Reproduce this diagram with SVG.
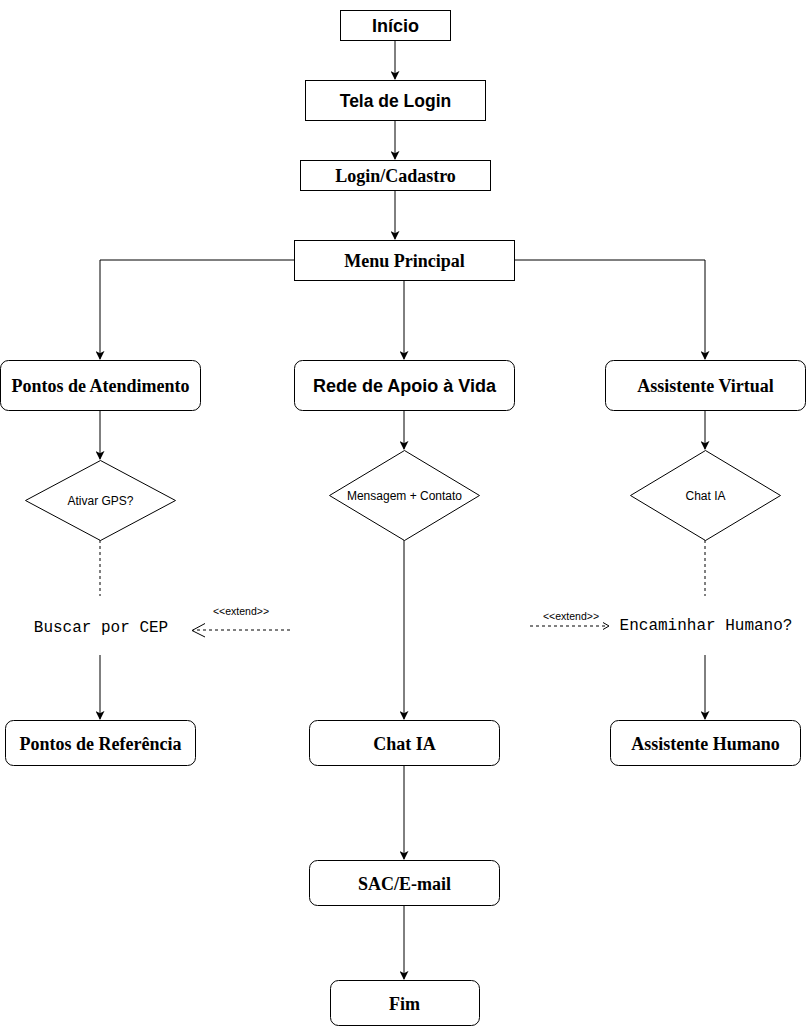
<svg xmlns="http://www.w3.org/2000/svg" width="806" height="1029" viewBox="0 0 806 1029">
<defs>
<marker id="arr" viewBox="0 0 10 10" refX="9" refY="5" markerWidth="9" markerHeight="9" markerUnits="userSpaceOnUse" orient="auto">
<path d="M0,0 L10,5 L0,10 L2.5,5 Z" fill="#000"/>
</marker>
</defs>
<style>
.box{fill:#fff;stroke:#000;stroke-width:1}
.ln{fill:none;stroke:#000;stroke-width:1}
.dash{fill:none;stroke:#000;stroke-width:1;stroke-dasharray:3 3}
.sans{font-family:"Liberation Sans",Arial,sans-serif;font-weight:bold;font-size:18px;text-anchor:middle}
.serif{font-family:"Liberation Serif","Times New Roman",serif;font-weight:bold;font-size:18px;text-anchor:middle}
.small{font-family:"Liberation Sans",Arial,sans-serif;font-size:12px;text-anchor:middle}
.mono{font-family:"Liberation Mono","Courier New",monospace;font-size:16px;text-anchor:middle}
.ext{font-family:"Liberation Sans",Arial,sans-serif;font-size:10.5px;text-anchor:middle}
</style>
<rect width="806" height="1029" fill="#fff"/>
<g id="connectors">
<line class="ln" x1="395" y1="40" x2="395" y2="79" marker-end="url(#arr)"/>
<line class="ln" x1="395" y1="120" x2="395" y2="159" marker-end="url(#arr)"/>
<line class="ln" x1="395" y1="190" x2="395" y2="239" marker-end="url(#arr)"/>
<polyline class="ln" points="294,260 100,260 100,359" marker-end="url(#arr)"/>
<polyline class="ln" points="514,260 705,260 705,359" marker-end="url(#arr)"/>
<line class="ln" x1="404" y1="280" x2="404" y2="359" marker-end="url(#arr)"/>
<line class="ln" x1="100" y1="410" x2="100" y2="459" marker-end="url(#arr)"/>
<line class="ln" x1="404" y1="410" x2="404" y2="449" marker-end="url(#arr)"/>
<line class="ln" x1="705" y1="410" x2="705" y2="449" marker-end="url(#arr)"/>
<line class="dash" x1="100" y1="540" x2="100" y2="596"/>
<line class="dash" x1="705" y1="540" x2="705" y2="596"/>
<line class="ln" x1="100" y1="655" x2="100" y2="719" marker-end="url(#arr)"/>
<line class="ln" x1="705" y1="655" x2="705" y2="719" marker-end="url(#arr)"/>
<line class="ln" x1="404" y1="540" x2="404" y2="719" marker-end="url(#arr)"/>
<line class="ln" x1="404" y1="765" x2="404" y2="859" marker-end="url(#arr)"/>
<line class="ln" x1="404" y1="905" x2="404" y2="979" marker-end="url(#arr)"/>
<line class="dash" x1="290" y1="630" x2="193" y2="630"/>
<polyline class="ln" points="205,623.5 192,630.5 205,637"/>
<text class="ext" x="241" y="615">&lt;&lt;extend&gt;&gt;</text>
<line class="dash" x1="530" y1="626" x2="608" y2="626"/>
<polyline class="ln" points="603,622.5 609,626 603,629.5"/>
<text class="ext" x="571" y="620">&lt;&lt;extend&gt;&gt;</text>
</g>
<g id="inicio"><rect class="box" x="340.5" y="10.5" width="110" height="30"/><text class="sans" x="395.5" y="31.5">Início</text></g>
<g id="tela-login"><rect class="box" x="305.5" y="80.5" width="180" height="40"/><text class="sans" x="395.5" y="106.5" style="font-size:17.5px">Tela de Login</text></g>
<g id="login-cadastro"><rect class="box" x="300.5" y="160.5" width="190" height="30"/><text class="serif" x="395.5" y="181.5">Login/Cadastro</text></g>
<g id="menu-principal"><rect class="box" x="294.5" y="240.5" width="220" height="40"/><text class="serif" x="404.5" y="266.5">Menu Principal</text></g>
<g id="pontos-atendimento"><rect class="box" x="0.5" y="360.5" width="200" height="50" rx="8"/><text class="serif" x="100.5" y="391.5">Pontos de Atendimento</text></g>
<g id="rede-apoio"><rect class="box" x="294.5" y="360.5" width="220" height="50" rx="8"/><text class="sans" x="404.5" y="391.5">Rede de Apoio à Vida</text></g>
<g id="assistente-virtual"><rect class="box" x="605.5" y="360.5" width="200" height="50" rx="8"/><text class="serif" x="705.5" y="391.5">Assistente Virtual</text></g>
<g id="ativar-gps"><polygon class="box" points="100.5,460.5 175.5,500.5 100.5,540.5 25.5,500.5"/><text class="small" x="100.5" y="504.5">Ativar GPS?</text></g>
<g id="mensagem-contato"><polygon class="box" points="404.5,450.5 479.5,495.5 404.5,540.5 329.5,495.5"/><text class="small" x="404.5" y="499.5">Mensagem + Contato</text></g>
<g id="chat-ia-decisao"><polygon class="box" points="705.5,450.5 780.5,495.5 705.5,540.5 630.5,495.5"/><text class="small" x="705.5" y="499.5">Chat IA</text></g>
<g id="buscar-cep"><text class="mono" x="101" y="632">Buscar por CEP</text></g>
<g id="encaminhar-humano"><text class="mono" x="706" y="630">Encaminhar Humano?</text></g>
<g id="pontos-referencia"><rect class="box" x="5.5" y="720.5" width="190" height="45" rx="8"/><text class="serif" x="100.5" y="749.5">Pontos de Referência</text></g>
<g id="chat-ia"><rect class="box" x="309.5" y="720.5" width="190" height="45" rx="8"/><text class="serif" x="404.5" y="749.5">Chat IA</text></g>
<g id="assistente-humano"><rect class="box" x="610.5" y="720.5" width="190" height="45" rx="8"/><text class="serif" x="705.5" y="749.5">Assistente Humano</text></g>
<g id="sac-email"><rect class="box" x="309.5" y="860.5" width="190" height="45" rx="8"/><text class="serif" x="404.5" y="889.5">SAC/E-mail</text></g>
<g id="fim"><rect class="box" x="330.5" y="980.5" width="149" height="45" rx="8"/><text class="serif" x="404.5" y="1009.5">Fim</text></g>
</svg>
